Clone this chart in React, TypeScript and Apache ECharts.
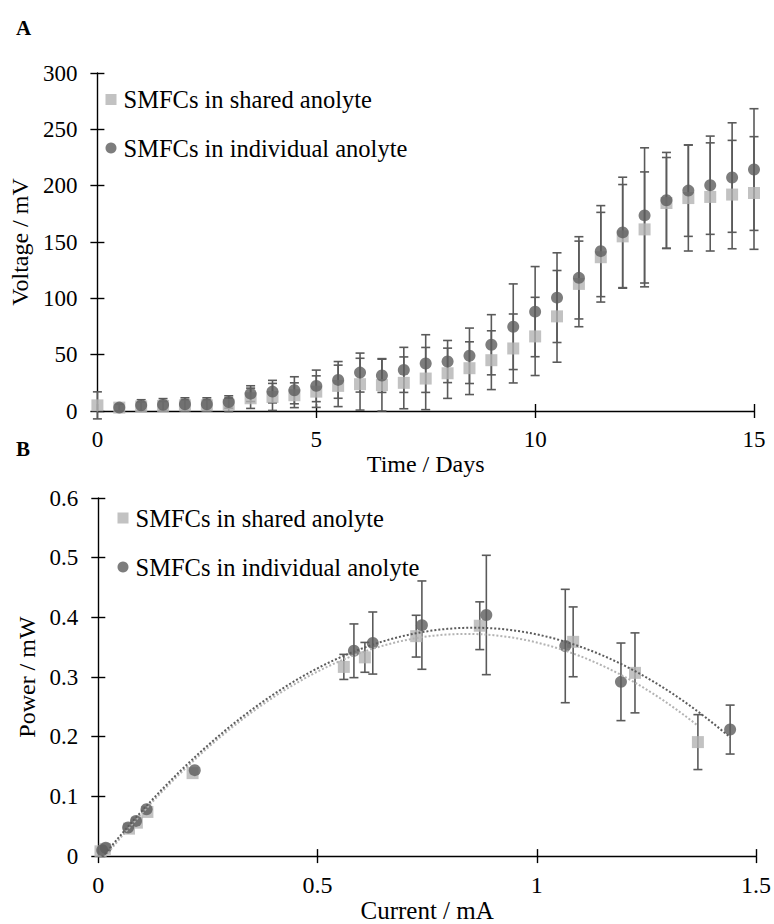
import React, { useEffect, useRef } from "react";
import * as echarts from "echarts";

// ---------- Panel A: voltage over time ----------
const days = [0, 0.5, 1, 1.5, 2, 2.5, 3, 3.5, 4, 4.5, 5, 5.5, 6, 6.5, 7, 7.5, 8, 8.5, 9, 9.5, 10, 10.5, 11, 11.5, 12, 12.5, 13, 13.5, 14, 14.5, 15];
const sharedVoltage = [5, 3, 4, 4.5, 5, 5, 5.5, 11.3, 12.5, 14, 17.2, 22.3, 23.8, 23, 25, 28.8, 33.5, 38, 45.1, 55.5, 66.2, 84, 112.8, 136.5, 155, 161.2, 184.6, 189, 190, 192.1, 193.5];
const sharedVoltageErr = [12, 3, 4, 4, 5, 5, 6, 9, 12, 11, 14, 18.4, 23, 23, 23, 27.6, 22.3, 23.4, 26.1, 30.6, 34.7, 40.7, 38, 39.8, 46, 51, 40.4, 47, 48, 48.1, 50];
const indivVoltage = [null, 3, 5, 5.5, 6, 6, 8, 15.4, 17.2, 18.4, 22.3, 27.6, 34.1, 31.5, 36.5, 42.1, 43.9, 49, 58.8, 74.8, 88.2, 100.6, 118.2, 141.9, 158.5, 173.6, 187, 195.6, 200.4, 207.2, 214.3];
const indivVoltageErr = [null, 3, 5, 5.5, 5.7, 5.7, 5.5, 7, 10, 12, 14, 16.3, 17.3, 15, 20, 25.6, 18.7, 24.6, 26.7, 38, 40, 39.8, 36.5, 40.4, 49, 60, 42.5, 40.6, 43.6, 48.6, 54];

// ---------- Panel B: power vs current ----------
const sharedCurrent = [0.005, 0.015, 0.07, 0.088, 0.112, 0.215, 0.56, 0.608, 0.725, 0.87, 1.083, 1.224, 1.3675];
const sharedPower = [0.008, 0.012, 0.046, 0.056, 0.074, 0.139, 0.317, 0.333, 0.3685, 0.386, 0.359, 0.307, 0.191];
const sharedPowerErr = [0, 0, 0, 0, 0, 0, 0.021, 0.025, 0.035, 0.04, 0.0585, 0.067, 0.046];
const indivCurrent = [0.009, 0.017, 0.068, 0.086, 0.11, 0.22, 0.583, 0.626, 0.738, 0.885, 1.065, 1.192, 1.441];
const indivPower = [0.01, 0.014, 0.048, 0.059, 0.0785, 0.144, 0.344, 0.357, 0.387, 0.404, 0.352, 0.292, 0.212];
const indivPowerErr = [0, 0, 0, 0, 0, 0, 0.045, 0.052, 0.074, 0.1, 0.095, 0.065, 0.041];

const SHARED = "SMFCs in shared anolyte";
const INDIV = "SMFCs in individual anolyte";
const LIGHT = "#b3b3b3";
const DARK = "#5c5c5c";
const ERR = "#5a5a5a";
const FONT = "'Liberation Serif', 'Times New Roman', serif";

// least-squares polynomial trendline (order 2, as the spreadsheet does) computed from data
function polyfit(xs: number[], ys: number[], deg: number): number[] {
  const n = deg + 1;
  const M: number[][] = Array.from({ length: n }, () => new Array(n + 1).fill(0));
  for (let k = 0; k < xs.length; k++) {
    for (let i = 0; i < n; i++) {
      for (let j = 0; j < n; j++) M[i][j] += Math.pow(xs[k], i + j);
      M[i][n] += ys[k] * Math.pow(xs[k], i);
    }
  }
  for (let c = 0; c < n; c++) {
    let p = c;
    for (let r = c + 1; r < n; r++) if (Math.abs(M[r][c]) > Math.abs(M[p][c])) p = r;
    [M[c], M[p]] = [M[p], M[c]];
    for (let r = 0; r < n; r++) {
      if (r === c) continue;
      const f = M[r][c] / M[c][c];
      for (let j = c; j <= n; j++) M[r][j] -= f * M[c][j];
    }
  }
  return M.map((row, i) => row[n] / row[i]);
}
function trend(xs: number[], ys: number[]) {
  const coef = polyfit(xs, ys, 2);
  const x0 = Math.min(...xs);
  const x1 = Math.max(...xs);
  const pts: number[][] = [];
  const steps = 120;
  for (let s = 0; s <= steps; s++) {
    const x = x0 + ((x1 - x0) * s) / steps;
    pts.push([x, coef.reduce((acc, c, i) => acc + c * Math.pow(x, i), 0)]);
  }
  return pts;
}

function errData(xs: number[], ys: (number | null)[], es: (number | null)[]) {
  const out: number[][] = [];
  xs.forEach((x, i) => {
    const y = ys[i];
    const e = es[i];
    if (y == null || e == null || e <= 0) return;
    out.push([x, y - e, y + e]);
  });
  return out;
}
function pts(xs: number[], ys: (number | null)[]) {
  const out: number[][] = [];
  xs.forEach((x, i) => {
    const y = ys[i];
    if (y != null) out.push([x, y]);
  });
  return out;
}

function errSeries(data: number[][], xi: number, yi: number, color: string) {
  return {
    type: "custom",
    xAxisIndex: xi,
    yAxisIndex: yi,
    silent: true,
    data,
    encode: { x: 0, y: [1, 2] },
    renderItem: (params: any, api: any) => {
      const x = api.value(0);
      const lo = api.coord([x, api.value(1)]);
      const hi = api.coord([x, api.value(2)]);
      const cap = 4.5;
      const style = { stroke: color, lineWidth: 1.6 };
      return {
        type: "group",
        children: [
          { type: "line", shape: { x1: lo[0], y1: lo[1], x2: hi[0], y2: hi[1] }, style },
          { type: "line", shape: { x1: hi[0] - cap, y1: hi[1], x2: hi[0] + cap, y2: hi[1] }, style },
          { type: "line", shape: { x1: lo[0] - cap, y1: lo[1], x2: lo[0] + cap, y2: lo[1] }, style },
        ],
      };
    },
  };
}

const axisLineStyle = { color: "#000", width: 1.4 };
const labelStyle = { fontFamily: FONT, fontSize: 23, color: "#000" };

function mainAxis(extra: any) {
  return {
    type: "value",
    axisLine: { show: true, onZero: false, lineStyle: axisLineStyle },
    axisTick: { show: true, inside: false, length: 7, lineStyle: axisLineStyle },
    splitLine: { show: false },
    axisLabel: { ...labelStyle },
    nameTextStyle: { fontFamily: FONT, fontSize: 24, color: "#000" },
    ...extra,
  };
}
function dupAxis(extra: any) {
  return {
    type: "value",
    axisLine: { show: false },
    axisTick: { show: true, inside: true, length: 7, lineStyle: axisLineStyle },
    splitLine: { show: false },
    axisLabel: { show: false },
    ...extra,
  };
}

export default function App() {
  const ref = useRef<HTMLDivElement>(null);
  useEffect(() => {
    if (!ref.current) return;
    const chart = echarts.init(ref.current, undefined, { renderer: "svg" });
    const legendText = { fontFamily: FONT, fontSize: 24.5, color: "#000", lineHeight: 26, padding: [0, 0, 0, 2] };
    const legendData = [
      { name: SHARED, icon: "rect" },
      { name: INDIV, icon: "circle" },
    ];
    const panelLabel = { fontFamily: FONT, fontSize: 21, fontWeight: "bold", color: "#000" };
    const option: any = {
      animation: false,
      backgroundColor: "#fff",
      title: [
        { text: "A", left: 16, top: 17, padding: 0, textStyle: panelLabel },
        { text: "B", left: 16, top: 438, padding: 0, textStyle: panelLabel },
      ],
      legend: [
        { left: 105.5, top: 86.5, padding: 0, orient: "vertical", itemWidth: 11, itemHeight: 11, itemGap: 22.5, selectedMode: false, data: legendData, textStyle: legendText },
        { left: 117.5, top: 505, padding: 0, orient: "vertical", itemWidth: 11, itemHeight: 11, itemGap: 23, selectedMode: false, data: legendData, textStyle: legendText },
      ],
      grid: [
        { left: 97, top: 73, width: 657, height: 338 },
        { left: 98.3, top: 498, width: 658.4, height: 359 },
      ],
      xAxis: [
        mainAxis({ gridIndex: 0, position: "bottom", min: 0, max: 15, interval: 5, name: "Time / Days", nameLocation: "middle", nameGap: 38, axisLabel: { ...labelStyle, margin: 17 } }),
        dupAxis({ gridIndex: 0, position: "bottom", min: 0, max: 15, interval: 5 }),
        mainAxis({ gridIndex: 1, position: "bottom", min: 0, max: 1.5, interval: 0.5, name: "Current / mA", nameLocation: "middle", nameGap: 40, nameTextStyle: { fontFamily: FONT, fontSize: 25, color: "#000" }, axisLabel: { ...labelStyle, fontSize: 24, margin: 17 } }),
        dupAxis({ gridIndex: 1, position: "bottom", min: 0, max: 1.5, interval: 0.5 }),
      ],
      yAxis: [
        mainAxis({ gridIndex: 0, position: "left", min: 0, max: 300, interval: 50, name: "Voltage / mV", nameLocation: "middle", nameGap: 60, nameRotate: 90, axisLabel: { ...labelStyle, margin: 20 } }),
        dupAxis({ gridIndex: 0, position: "left", min: 0, max: 300, interval: 50 }),
        mainAxis({ gridIndex: 1, position: "left", min: 0, max: 0.6, interval: 0.1, name: "Power / mW", nameLocation: "middle", nameGap: 57, nameRotate: 90, axisLabel: { ...labelStyle, margin: 20 } }),
        dupAxis({ gridIndex: 1, position: "left", min: 0, max: 0.6, interval: 0.1 }),
      ],
      series: [
        // Panel A
        errSeries(errData(days, sharedVoltage, sharedVoltageErr), 0, 0, ERR),
        errSeries(errData(days, indivVoltage, indivVoltageErr), 0, 0, ERR),
        { type: "scatter", name: SHARED, xAxisIndex: 0, yAxisIndex: 0, symbol: "rect", symbolSize: 12, itemStyle: { color: LIGHT }, data: pts(days, sharedVoltage), silent: true },
        { type: "scatter", name: INDIV, xAxisIndex: 0, yAxisIndex: 0, symbol: "circle", symbolSize: 12, itemStyle: { color: DARK }, data: pts(days, indivVoltage), silent: true },
        // Panel B
        errSeries(errData(sharedCurrent, sharedPower, sharedPowerErr), 2, 2, ERR),
        errSeries(errData(indivCurrent, indivPower, indivPowerErr), 2, 2, ERR),
        { type: "scatter", name: SHARED, xAxisIndex: 2, yAxisIndex: 2, symbol: "rect", symbolSize: 12, itemStyle: { color: LIGHT }, data: pts(sharedCurrent, sharedPower), silent: true },
        { type: "scatter", name: INDIV, xAxisIndex: 2, yAxisIndex: 2, symbol: "circle", symbolSize: 12, itemStyle: { color: DARK }, data: pts(indivCurrent, indivPower), silent: true },
        { type: "line", name: "trend shared", xAxisIndex: 2, yAxisIndex: 2, showSymbol: false, symbol: "none", silent: true, lineStyle: { color: LIGHT, width: 2, type: [2, 2] }, data: trend(sharedCurrent, sharedPower) },
        { type: "line", name: "trend individual", xAxisIndex: 2, yAxisIndex: 2, showSymbol: false, symbol: "none", silent: true, lineStyle: { color: DARK, width: 2, type: [2, 2] }, data: trend(indivCurrent, indivPower) },
      ],
    };
    chart.setOption(option);
    return () => chart.dispose();
  }, []);
  return <div ref={ref} style={{ position: "fixed", left: 0, top: 0, width: 774, height: 924, background: "#fff" }} />;
}
